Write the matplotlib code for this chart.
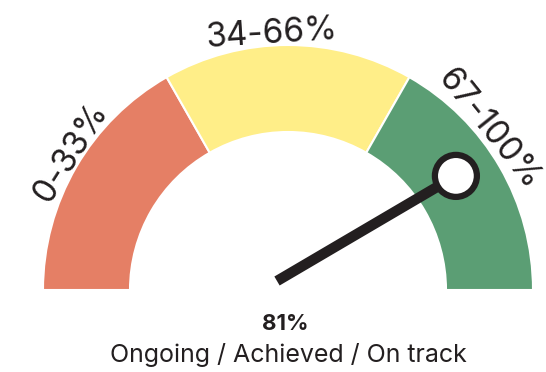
import numpy as np
import matplotlib
matplotlib.use("Agg")
import matplotlib.pyplot as plt
from matplotlib.patches import Wedge, Circle

plt.rcParams["font.family"] = ["Inter", "DejaVu Sans"]

# gauge bands (percent) and their labels
band_starts = [0, 33.5, 66.5]
band_ends = [33.5, 66.5, 100]
band_labels = ["0-33%", "34-66%", "67-100%"]
band_colors = ["#E57F65", "#FFEE88", "#5B9E74"]
value = 81
status = "Ongoing / Achieved / On track"

# where each band label sits along the arc (percent of the sweep)
label_pos = [18, 48, 78.5]

W, H = 546, 372
fig = plt.figure(figsize=(W / 100, H / 100), dpi=100)
ax = fig.add_axes([0, 0, 1, 1])
ax.set_xlim(0, W)
ax.set_ylim(0, H)
ax.set_aspect("equal")
ax.axis("off")

cx, cy = 288, 82
r_out, r_in = 245, 158


def pct_to_deg(p):
    return 180 - 180 * p / 100


for start, end, color in zip(band_starts, band_ends, band_colors):
    wedge = Wedge((cx, cy), r_out, pct_to_deg(end), pct_to_deg(start),
                  width=r_out - r_in, facecolor=color, edgecolor="white", linewidth=1.5)
    ax.add_patch(wedge)

for label, pos in zip(band_labels, label_pos):
    a = np.radians(pct_to_deg(pos))
    lr = 257
    ax.text(cx + lr * np.cos(a), cy + lr * np.sin(a), label,
            rotation=np.degrees(a) - 90, rotation_mode="anchor",
            ha="center", va="center", fontsize=24, color="#231F20")

# needle, pivot sits a little up-left of the arc centre
ang = np.radians(pct_to_deg(value))
tip_r = 203
tx, ty = cx + tip_r * np.cos(ang), cy + tip_r * np.sin(ang)
px, py = cx - 11, cy + 9
ax.plot([px, tx], [py, ty], color="#231F20", linewidth=7.5, solid_capstyle="butt", zorder=3)
ax.add_patch(Circle((tx, ty), 21, facecolor="white", edgecolor="#231F20", linewidth=4.5, zorder=4))

ax.text(cx - 3, H - 324, f"{value}%", ha="center", va="center",
        fontsize=16, fontweight="bold", color="#231F20")
ax.text(cx, H - 355, status, ha="center", va="center", fontsize=18, color="#231F20")

fig.savefig("out.png", dpi=100)
